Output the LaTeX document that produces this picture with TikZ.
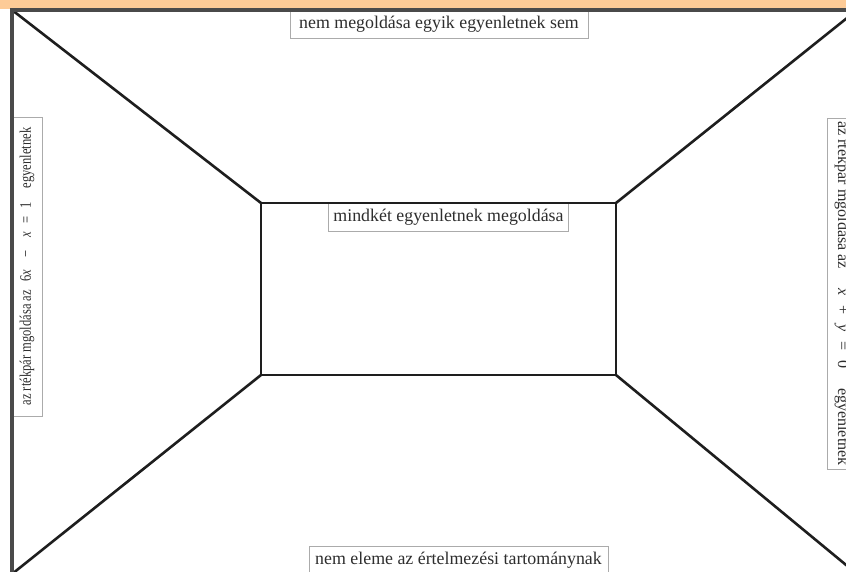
\documentclass[tikz,border=0pt]{standalone}
\usepackage{fontspec}
\setmainfont{Liberation Serif}
\usetikzlibrary{calc}
\definecolor{band}{HTML}{FDCB97}
\definecolor{wallcol}{HTML}{1E1E1E}
\definecolor{rimcol}{HTML}{4A4A4A}
\definecolor{tagline}{HTML}{ABABAB}
\definecolor{tagtext}{HTML}{2E2E2E}

\begin{document}
\begin{tikzpicture}[x=0.56pt,y=-0.56pt,font=\normalsize,
  wall/.style={line width=1.45pt,draw=wallcol},
  rim/.style={line width=1.7pt,draw=rimcol},
  tag/.style={draw=tagline,fill=white,line width=0.5pt,text=tagtext,inner sep=0pt}]
  \useasboundingbox (0,0) rectangle (846,572);
  \clip (0,0) rectangle (846,572);
  \fill[white] (0,0) rectangle (846,572);
  \fill[band] (0,0) rectangle (846,9);
  % corners of the room
  \coordinate (oTL) at (12,10);
  \coordinate (oTR) at (857,10);
  \coordinate (oBR) at (857,574);
  \coordinate (oBL) at (12,574);
  \coordinate (iTL) at (261,203);
  \coordinate (iTR) at (616,203);
  \coordinate (iBR) at (616,375);
  \coordinate (iBL) at (261,375);
  % labels
  \node[tag,minimum width=298*0.56pt,minimum height=28*0.56pt] (ceiling) at (439,24)
    {nem megoldása egyik egyenletnek sem};
  \node[tag,minimum width=240*0.56pt,minimum height=28*0.56pt] (back) at (448.5,217.5)
    {mindkét egyenletnek megoldása};
  \node[tag,minimum width=299*0.56pt,minimum height=28*0.56pt] (floor) at (458.5,560)
    {nem eleme az értelmezési tartománynak};
  \node[tag,rotate=90,font=\fontsize{9}{10}\selectfont,minimum width=299*0.56pt,minimum height=30*0.56pt] (leftwall) at (27,266.5)
    {\scalebox{0.78}[1]{az rtékpár mgoldása az\hspace{6pt}6\textit{x}\hspace{9pt}−\hspace{9pt}\textit{x}\hspace{6pt}=\hspace{6pt}1\hspace{10pt}egyenletnek}};
  \node[tag,rotate=-90,font=\fontsize{9}{10}\selectfont,minimum width=351*0.56pt,minimum height=30*0.56pt] (rightwall) at (842,293.5)
    {az rtékpár mgoldása az\hspace{11pt}\textit{x}\hspace{5.5pt}+\hspace{5.5pt}\textit{y}\hspace{5.5pt}=\hspace{5.5pt}0\hspace{11pt}egyenletnek};
  % walls
  \draw[wall] (iTL) rectangle (iBR);
  \foreach \c in {TL,TR,BR,BL}
    \draw[wall] (o\c) -- (i\c);
  \draw[rim] (oBL) -- (oTL) -- (oTR);
\end{tikzpicture}
\end{document}
